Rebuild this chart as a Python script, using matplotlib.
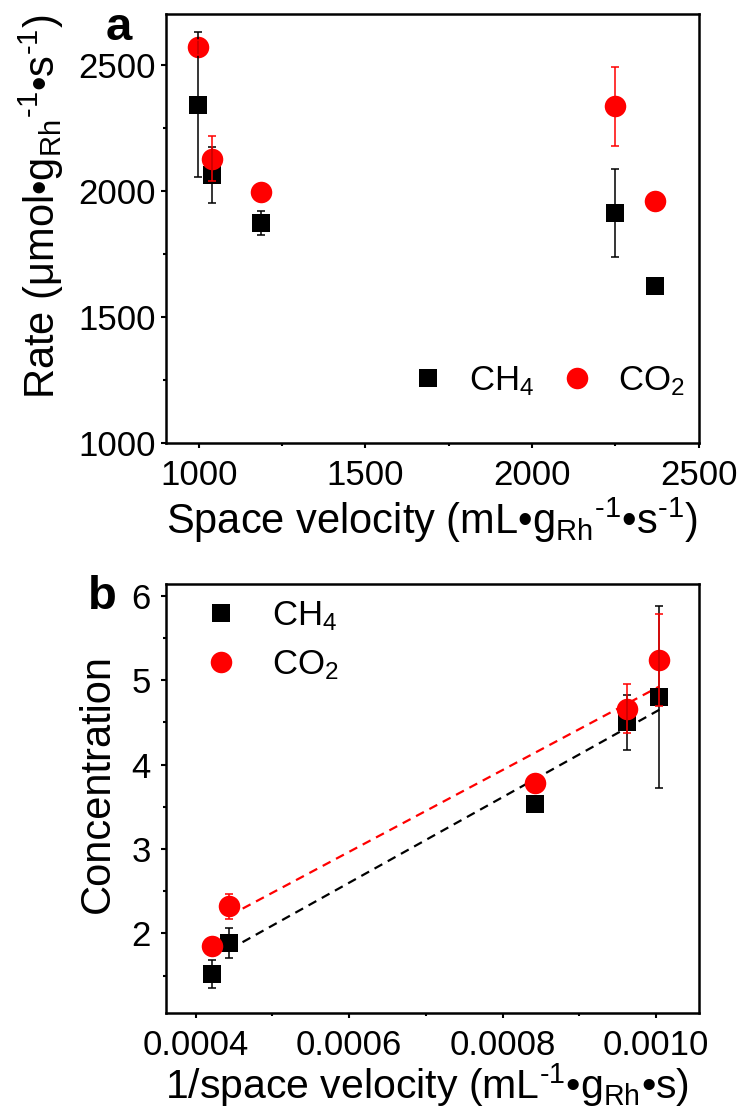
import numpy as np
import matplotlib
matplotlib.use("Agg")
import matplotlib.pyplot as plt
from matplotlib.ticker import MultipleLocator, AutoMinorLocator

plt.rcParams['font.family'] = ['Liberation Sans', 'DejaVu Sans']
plt.rcParams['mathtext.fontset'] = 'custom'
plt.rcParams['mathtext.rm'] = 'Liberation Sans'
plt.rcParams['mathtext.it'] = 'Liberation Sans:italic'
plt.rcParams['mathtext.bf'] = 'Liberation Sans:bold'
plt.rcParams['mathtext.default'] = 'regular'

# ---------------- data: panel a ----------------
space_velocity = [997, 1040, 1187, 2250, 2370]
rate_ch4 = [2342, 2063, 1872, 1912, 1624]
rate_ch4_err = [287, 110, 47, 174, 10]
rate_co2 = [2569, 2127, 1997, 2335, 1961]
rate_co2_err = [30, 90, 15, 156, 15]

# ---------------- data: panel b ----------------
inv_space_velocity = [0.000421, 0.000444, 0.000842, 0.000962, 0.001004]
conc_ch4 = [1.52, 1.89, 3.535, 4.50, 4.80]
conc_ch4_err = [0.17, 0.18, 0.04, 0.33, 1.08]
conc_co2 = [1.857, 2.32, 3.78, 4.66, 5.24]
conc_co2_err = [0.05, 0.15, 0.05, 0.29, 0.55]

labels = ['CH$_4$', 'CO$_2$']

TICK_FS = 25
LABEL_FS = 30
BLACK = '#000000'
RED = '#ff0000'
INV = r'$^{\text{-}1}$'

fig = plt.figure(figsize=(7.42, 11.14), dpi=100)
ax_a = fig.add_axes([0.2232, 0.6024, 0.7182, 0.3848])
ax_b = fig.add_axes([0.2232, 0.0908, 0.7182, 0.3850])


def style_axes(ax, ypad):
    for s in ax.spines.values():
        s.set_linewidth(1.8)
    ax.tick_params(which='both', direction='out', width=1.5, labelsize=TICK_FS,
                   top=False, right=False)
    ax.tick_params(which='major', length=3.8)
    ax.tick_params(which='minor', length=2.5)
    ax.tick_params(axis='x', pad=8)
    ax.tick_params(axis='y', pad=ypad)


def draw_series(ax, x, y, yerr, color, marker, ms, label):
    ax.plot(x, y, ls='none', marker=marker, ms=ms, mfc=color, mec=color,
            mew=0, label=label, zorder=2)
    ax.errorbar(x, y, yerr=yerr, fmt='none', ecolor=color, elinewidth=1.3,
                capsize=3.2, capthick=1.3, zorder=3, alpha=0.85)


# ---------------- panel a ----------------
draw_series(ax_a, space_velocity, rate_ch4, rate_ch4_err, BLACK, 's', 13, labels[0])
draw_series(ax_a, space_velocity, rate_co2, rate_co2_err, RED, 'o', 15.5, labels[1])
ax_a.set_xlim(900, 2500)
ax_a.set_ylim(1000, 2700)
ax_a.xaxis.set_major_locator(MultipleLocator(500))
ax_a.xaxis.set_minor_locator(AutoMinorLocator(2))
ax_a.yaxis.set_major_locator(MultipleLocator(500))
ax_a.yaxis.set_minor_locator(AutoMinorLocator(2))
style_axes(ax_a, 3)
ax_a.set_xlabel('Space velocity (mL•g$_{Rh}$' + INV + '•s' + INV + ')', fontsize=LABEL_FS)
ax_a.set_ylabel('Rate (μmol•g$_{Rh}$' + INV + '•s' + INV + ')', fontsize=LABEL_FS)
ax_a.yaxis.set_label_coords(-0.187, 0.55)
ax_a.xaxis.set_label_coords(0.5, -0.124)
ax_a.legend(loc='center', bbox_to_anchor=(0.717, 0.144), ncol=2, frameon=False,
            fontsize=TICK_FS, handlelength=1.0, handletextpad=0.69,
            columnspacing=0.73, borderpad=0, borderaxespad=0)

# ---------------- panel b ----------------
draw_series(ax_b, inv_space_velocity, conc_ch4, conc_ch4_err, BLACK, 's', 13, labels[0])
draw_series(ax_b, inv_space_velocity, conc_co2, conc_co2_err, RED, 'o', 15.5, labels[1])

# linear fits (excluding lowest point), dashed
xs = np.array(inv_space_velocity[1:])
for yv, col in ((conc_ch4, BLACK), (conc_co2, RED)):
    k, b = np.polyfit(xs, np.array(yv[1:]), 1)
    xx = np.array([xs.min(), xs.max()])
    ax_b.plot(xx, k * xx + b, ls=(0, (4, 2.8)), lw=1.6, color=col, zorder=1)

ax_b.set_xlim(0.000361, 0.001055)
ax_b.set_ylim(1.06, 6.14)
ax_b.xaxis.set_major_locator(MultipleLocator(0.0002))
ax_b.xaxis.set_minor_locator(AutoMinorLocator(2))
ax_b.yaxis.set_major_locator(MultipleLocator(1))
ax_b.yaxis.set_minor_locator(AutoMinorLocator(2))
ax_b.xaxis.set_major_formatter(plt.FuncFormatter(lambda v, p: f'{v:.4f}'))
style_axes(ax_b, 7)
ax_b.set_xlabel('1/space velocity (mL' + INV + '•g$_{Rh}$•s)', fontsize=29.5)
ax_b.set_ylabel('Concentration', fontsize=30)
ax_b.yaxis.set_label_coords(-0.089, 0.534)
ax_b.xaxis.set_label_coords(0.49, -0.112)
ax_b.legend(loc='center', bbox_to_anchor=(0.198, 0.868), frameon=False,
            fontsize=TICK_FS, handlelength=1.0, handletextpad=0.98,
            labelspacing=0.45, borderpad=0, borderaxespad=0)

# panel letters
fig.text(119 / 742, 1 - 40 / 1114, 'a', fontsize=34, fontweight='bold',
         ha='center', va='baseline')
fig.text(102 / 742, 1 - 609 / 1114, 'b', fontsize=34, fontweight='bold',
         ha='center', va='baseline')

fig.savefig('out.png', dpi=100)
